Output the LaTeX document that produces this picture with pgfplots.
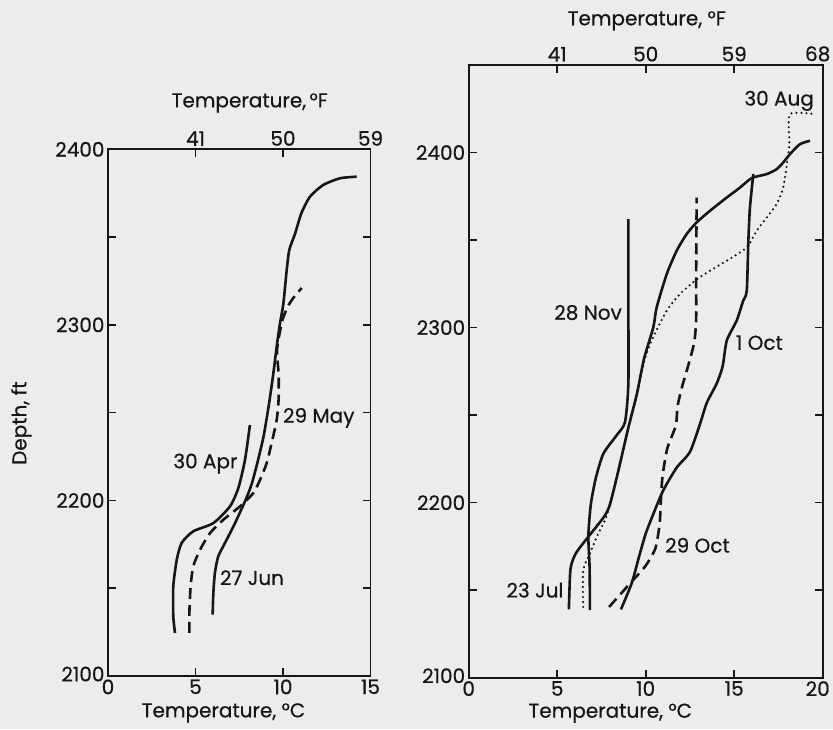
\documentclass[border=0pt]{standalone}
\usepackage{fontspec}
\setmainfont{Poppins}[FakeBold=0.5]
\usepackage{pgfplots}
\usepackage{pgfplotstable}
\pgfplotsset{compat=1.18}

\definecolor{paper}{RGB}{236,236,234}
\definecolor{ink}{RGB}{22,22,22}

% depth profiles, temperature in C, depth in ft
\pgfplotstableread{
T D
3.83 2124.5
3.73 2134.0
3.73 2151.1
3.93 2166.3
4.21 2175.8
4.87 2182.4
6.02 2187.1
6.97 2196.6
7.45 2207.1
7.83 2223.2
8.11 2243.0
}\apr
\pgfplotstableread{
T D
4.65 2124.5
4.65 2135.9
4.72 2151.0
4.87 2162.4
5.26 2171.9
5.83 2181.4
6.59 2189.0
7.54 2196.6
8.30 2204.2
8.69 2211.8
9.07 2221.3
9.35 2232.7
9.64 2245.9
9.75 2258.0
9.75 2272.0
9.66 2286.0
9.95 2302.0
10.25 2310.0
10.60 2315.5
11.07 2321.0
}\may
\pgfplotstableread{
T D
5.98 2135.0
6.02 2147.3
6.11 2158.7
6.30 2168.1
6.78 2177.6
7.26 2187.1
7.85 2200.0
8.20 2209.0
8.55 2222.0
8.90 2237.0
9.20 2255.0
9.45 2272.5
9.64 2287.7
9.83 2301.0
10.02 2312.0
10.21 2331.0
10.36 2342.7
10.69 2352.0
11.05 2363.6
11.54 2373.0
12.30 2379.7
13.26 2383.5
14.21 2384.4
}\jun
\pgfplotstableread{
T D
5.66 2139.0
5.75 2162.0
6.05 2171.0
6.75 2180.4
7.65 2192.0
7.98 2199.0
8.45 2218.0
9.00 2242.0
9.50 2262.0
9.90 2282.0
10.43 2300.2
10.62 2311.6
11.19 2330.6
11.75 2343.9
12.32 2353.5
12.88 2360.1
13.63 2366.7
14.58 2374.3
15.33 2380.0
15.99 2385.4
16.84 2387.7
17.40 2390.5
17.77 2394.3
18.15 2399.1
18.72 2404.8
19.28 2406.7
}\jul
\pgfplotstableread{
T D
6.47 2140.4
6.47 2161.4
6.85 2170.9
7.23 2180.4
7.70 2190.0
7.98 2199.0
8.45 2218.0
9.00 2242.0
9.50 2262.0
9.95 2282.0
10.40 2294.0
11.19 2309.7
11.94 2319.2
12.79 2326.8
13.63 2332.5
14.58 2338.2
15.71 2345.8
16.27 2355.3
16.84 2362.9
17.40 2370.6
17.77 2380.0
18.00 2395.0
18.12 2405.0
18.15 2421.9
19.57 2421.9
}\aug
\pgfplotstableread{
T D
8.60 2139.0
9.21 2154.0
9.62 2169.0
10.00 2182.3
10.45 2194.0
10.99 2207.0
11.75 2220.0
12.50 2229.0
13.07 2245.0
13.45 2257.0
14.01 2268.0
14.35 2278.0
14.58 2292.6
15.14 2304.0
15.51 2315.4
15.71 2321.1
15.80 2349.6
15.89 2368.6
16.08 2387.7
}\oct
\pgfplotstableread{
T D
7.93 2140.4
9.11 2153.8
10.00 2164.0
10.55 2174.0
10.79 2188.0
10.85 2200.0
10.95 2215.0
11.22 2231.0
11.70 2244.0
11.80 2255.0
12.05 2266.0
12.45 2280.0
12.75 2292.0
12.85 2305.0
12.85 2330.0
12.88 2374.3
}\octb
\pgfplotstableread{
T D
6.85 2138.6
6.83 2163.0
6.76 2181.0
6.90 2199.0
7.18 2214.0
7.61 2228.0
8.36 2238.5
8.83 2246.0
9.02 2268.0
9.02 2315.0
9.02 2362.0
}\nov

\newcommand\lbl{\fontsize{20}{22}\selectfont}

\pgfplotsset{
  profile/.style={
    scale only axis,
    tick align=inside,
    major tick length=8pt, minor tick length=8pt,
    axis line style={ink, line width=1.8pt},
    every tick/.style={ink, line width=1.6pt},
    tick label style={font=\lbl, text=ink},
    label style={font=\lbl, text=ink},
    /pgf/number format/assume math mode=true,
    /pgf/number format/1000 sep={},
  },
  prof/.style={ink, line width=2.6pt, line join=round, smooth, tension=0.4},
  dashedprof/.style={prof, dash pattern=on 11pt off 6pt},
  dottedprof/.style={prof, line width=2.4pt, line cap=round, dash pattern=on 0pt off 5pt},
}

\begin{document}
\begin{tikzpicture}
\useasboundingbox (0,0) rectangle (833pt,729pt);
\fill[paper] (0,0) rectangle (833pt,729pt);

% ---- left panel
\begin{axis}[profile, at={(108pt,53pt)}, anchor=south west,
    width=262.5pt, height=526.7pt,
    xmin=0, xmax=15, ymin=2100, ymax=2400,
    xtick={0,5,10,15}, xtick pos=left,
    ytick={2100,2200,2300,2400}, minor ytick={2150,2250,2350},
    yticklabels={\raisebox{4pt}{2100},2200,2300,2400},
    xlabel={Temperature, °C},
    xlabel style={at={(axis description cs:0.44,-0.07)}, anchor=center},
    ylabel={Depth, ft},
    ylabel style={at={(axis description cs:-0.33,0.48)}, anchor=center},
  ]
  \addplot[prof] table {\apr};
  \addplot[dashedprof] table {\may};
  \addplot[prof] table {\jun};
  \node[anchor=east, font=\lbl, text=ink] at (axis cs:7.6,2221) {30 Apr};
  \node[anchor=west, font=\lbl, text=ink] at (axis cs:9.8,2247) {29 May};
  \node[anchor=west, font=\lbl, text=ink] at (axis cs:6.2,2156) {27 Jun};
\end{axis}
\begin{axis}[profile, at={(108pt,53pt)}, anchor=south west,
    width=262.5pt, height=526.7pt,
    xmin=32, xmax=59, ymin=0, ymax=1, ytick=\empty,
    xtick={41,50,59}, xtick pos=right, xticklabel pos=right,
    xlabel={Temperature,\,°F},
    xlabel style={at={(axis description cs:0.54,1.088)}, anchor=center},
  ]
\end{axis}

% ---- right panel
\begin{axis}[profile, at={(468.7pt,51.3pt)}, anchor=south west,
    width=354pt, height=612.7pt,
    xmin=0, xmax=20, ymin=2100, ymax=2450,
    xtick={0,5,10,15,20}, xtick pos=left,
    xticklabels={0,5,10,15,{\hspace*{-10pt}20}},
    ytick={2100,2200,2300,2400}, minor ytick={2150,2250,2350},
    yticklabels={\raisebox{4pt}{2100},2200,2300,2400},
    xlabel={Temperature, °C},
    xlabel style={at={(axis description cs:0.40,-0.058)}, anchor=center},
  ]
  \addplot[prof] table {\jul};
  \addplot[dottedprof] table {\aug};
  \addplot[prof] table {\oct};
  \addplot[dashedprof] table {\octb};
  \addplot[prof] table {\nov};
  \node[anchor=east, font=\lbl, text=ink] at (axis cs:19.7,2429.5) {30 Aug};
  \node[anchor=east, font=\lbl, text=ink] at (axis cs:8.85,2308.6) {28 Nov};
  \node[anchor=west, font=\lbl, text=ink] at (axis cs:14.9,2291.4) {1 Oct};
  \node[anchor=west, font=\lbl, text=ink] at (axis cs:10.9,2175.6) {29 Oct};
  \node[anchor=east, font=\lbl, text=ink] at (axis cs:5.55,2150) {23 Jul};
\end{axis}
\begin{axis}[profile, at={(468.7pt,51.3pt)}, anchor=south west,
    width=354pt, height=612.7pt,
    xmin=32, xmax=68, ymin=0, ymax=1, ytick=\empty,
    xtick={41,50,59,68}, xtick pos=right, xticklabel pos=right,
    xticklabels={41,50,59,{\hspace*{-10pt}68}},
    xlabel={Temperature, °F},
    xlabel style={at={(axis description cs:0.503,1.072)}, anchor=center},
  ]
\end{axis}
\end{tikzpicture}
\end{document}
